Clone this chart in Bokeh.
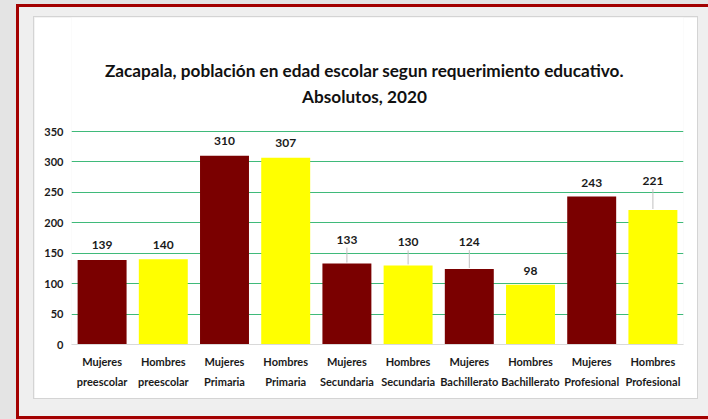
from bokeh.plotting import figure
from bokeh.layouts import column
from bokeh.models import ColumnDataSource, Range1d, FixedTicker, Label
from bokeh.core.properties import value
from bokeh.embed import file_html
from bokeh.resources import INLINE

# ---- data ----
categories = ["Mujeres\npreescolar", "Hombres\npreescolar", "Mujeres\nPrimaria", "Hombres\nPrimaria",
              "Mujeres\nSecundaria", "Hombres\nSecundaria", "Mujeres\nBachillerato", "Hombres\nBachillerato",
              "Mujeres\nProfesional", "Hombres\nProfesional"]
values = [139, 140, 310, 307, 133, 130, 124, 98, 243, 221]
y_ticks = [0, 50, 100, 150, 200, 250, 300, 350]
title_line1 = "Zacapala,  población en edad escolar segun requerimiento educativo."
title_line2 = "Absolutos, 2020"

# ---- styles ----
MUJ = "#7a0000"
HOM = "#ffff00"
colors = [MUJ if c.startswith("Mujeres") else HOM for c in categories]
label_gap = [15, 14, 15, 15, 24, 23, 27, 14, 14, 29]   # px above bar top (label placement)
FONT = "Lato"

W, H = 663, 381
ML, MR, MB = 37, 14, 54
axis_top_px = 114            # px from canvas top down to the 350 gridline
frame_h = H - MB             # frame spans from canvas top to x axis
ymax = 350
ppu = (frame_h - axis_top_px) / ymax
y_end = ymax + axis_top_px / ppu   # extra headroom holds the title

p = figure(width=W, height=H, x_range=categories, y_range=Range1d(0, y_end), title=None,
           output_backend="svg", toolbar_location=None,
           min_border_left=ML, min_border_right=MR, min_border_top=0, min_border_bottom=MB)
p.border_fill_color = "white"
p.background_fill_color = "white"
p.outline_line_color = None
p.styles = {"box-shadow": "0 0 0 1px #d4d4d4"}

for txt, xc, yc in [(title_line1, 332, 53), (title_line2, 330, 79)]:
    p.add_layout(Label(x=xc, y=yc, x_units="canvas", y_units="canvas", text=txt,
                       text_align="center", text_baseline="middle",
                       text_font=FONT, text_font_style="bold", text_font_size="17.2px",
                       text_color="#111111"))

src = ColumnDataSource(dict(cat=categories, val=values, color=colors,
                            lab=[str(v) for v in values],
                            yoff=[-g for g in label_gap]))
p.vbar(x="cat", top="val", width=0.8, fill_color="color", line_color=None, source=src)

# leader lines for labels moved away from bars
lx, ly0, ly1 = [], [], []
for c, v, g in zip(categories, values, label_gap):
    if g > 20:
        lx.append(c)
        ly0.append(v + 1 / ppu)
        ly1.append(v + (g - 8) / ppu)
p.segment(x0=lx, y0=ly0, x1=lx, y1=ly1, line_color="#c0c0c0", line_width=1)

p.text(x="cat", y="val", text="lab", y_offset="yoff", source=src,
       text_align="center", text_baseline="middle",
       text_font=value(FONT), text_font_style="bold", text_font_size="12px", text_color="#1a1a1a")

# axes
p.yaxis.ticker = FixedTicker(ticks=y_ticks)
p.yaxis.axis_line_color = None
p.yaxis.major_tick_line_color = None
p.yaxis.minor_tick_line_color = None
p.yaxis.major_tick_out = 0
p.yaxis.major_label_standoff = 8
p.yaxis.major_label_text_font = FONT
p.yaxis.major_label_text_font_style = "bold"
p.yaxis.major_label_text_font_size = "11px"
p.yaxis.major_label_text_color = "#1a1a1a"

p.xaxis.axis_line_color = "#d9d9d9"
p.xaxis.major_tick_line_color = None
p.xaxis.minor_tick_line_color = None
p.xaxis.major_tick_out = 0
p.xaxis.major_label_standoff = 10
p.xaxis.major_label_text_font = FONT
p.xaxis.major_label_text_font_style = "bold"
p.xaxis.major_label_text_font_size = "11px"
p.xaxis.major_label_text_color = "#1a1a1a"
p.xaxis.major_label_text_line_height = 1.6

p.xgrid.grid_line_color = None
p.ygrid.ticker = FixedTicker(ticks=y_ticks[1:])
p.ygrid.grid_line_color = "#3fba7a"
p.ygrid.grid_line_width = 1

inner = column(p, styles={"background-color": "#efefef",
                          "border-left": "3px solid #a30000",
                          "border-top": "3px solid #a30000",
                          "border-bottom": "3px solid #a30000",
                          "padding": "10px 11px 18px 15px"})
outer = column(inner, styles={"background-color": "#e4e4e4", "padding": "4px 0px 0px 16px"})

open("out.html", "w").write(file_html(outer, INLINE))
